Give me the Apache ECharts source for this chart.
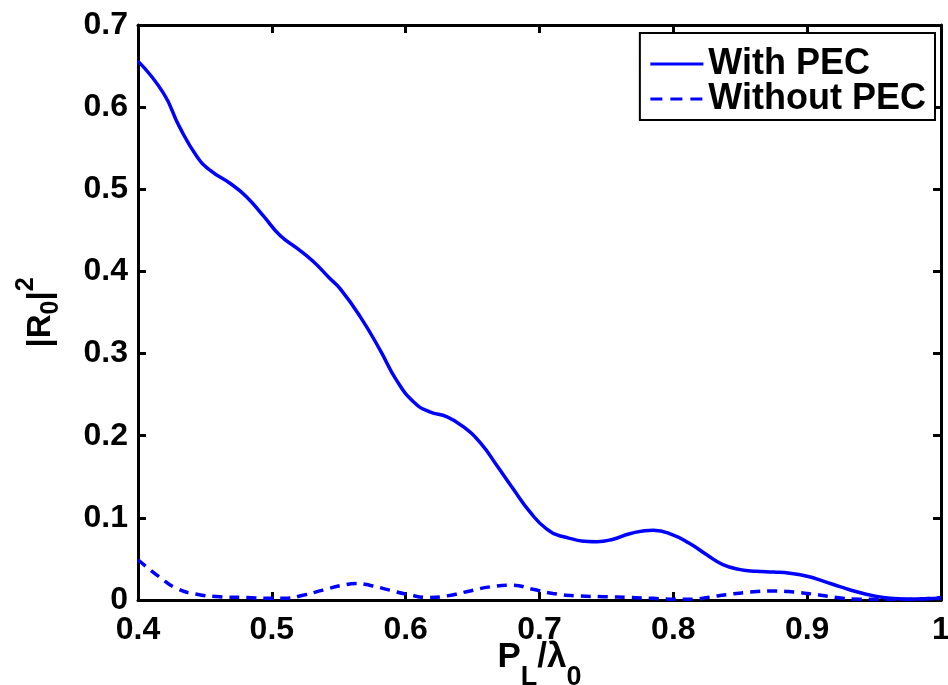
<!DOCTYPE html>
<html>
<head>
<meta charset="utf-8">
<script src="https://cdn.jsdelivr.net/npm/echarts@6/dist/echarts.min.js"></script>
<style>
  html, body { margin: 0; padding: 0; background: #fff; }
  #chart { width: 948px; height: 685px; }
</style>
</head>
<body>
<div id="chart"></div>
<script>
// Reflectance |R0|^2 versus normalised period P_L / lambda_0
const withPecX = [0.400, 0.419, 0.431, 0.444, 0.454, 0.469, 0.481, 0.494, 0.506, 0.519,
  0.531, 0.543, 0.551, 0.566, 0.581, 0.593, 0.606, 0.618, 0.631, 0.643,
  0.656, 0.668, 0.680, 0.693, 0.705, 0.718, 0.743, 0.755, 0.768, 0.785,
  0.800, 0.812, 0.825, 0.837, 0.850, 0.862, 0.875, 0.887, 0.900, 0.912,
  0.925, 0.937, 0.950, 0.962, 0.975, 1.000];
const withPecY = [0.656, 0.617, 0.576, 0.540, 0.523, 0.507, 0.491, 0.467, 0.444, 0.428,
  0.412, 0.392, 0.379, 0.345, 0.304, 0.268, 0.241, 0.229, 0.223, 0.211,
  0.191, 0.164, 0.136, 0.107, 0.087, 0.077, 0.071, 0.074, 0.081, 0.085,
  0.079, 0.069, 0.055, 0.043, 0.037, 0.035, 0.034, 0.0325, 0.029, 0.023,
  0.016, 0.010, 0.005, 0.002, 0.001, 0.002];

const withoutPecX = [0.400, 0.416, 0.429, 0.444, 0.461, 0.481, 0.499, 0.509, 0.524, 0.538,
  0.553, 0.563, 0.573, 0.588, 0.601, 0.618, 0.631, 0.648, 0.663, 0.680,
  0.695, 0.710, 0.728, 0.748, 0.768, 0.785, 0.798, 0.815, 0.825, 0.842,
  0.860, 0.875, 0.890, 0.905, 0.922, 0.940, 0.960, 0.980, 1.000];
const withoutPecY = [0.049, 0.028, 0.014, 0.007, 0.004, 0.003, 0.002, 0.002, 0.006, 0.012,
  0.018, 0.020, 0.018, 0.012, 0.007, 0.003, 0.005, 0.011, 0.016, 0.018,
  0.013, 0.008, 0.005, 0.004, 0.003, 0.002, 0.001, 0.001, 0.003, 0.007,
  0.010, 0.011, 0.0097, 0.007, 0.003, 0.001, 0.001, 0.001, 0.003];

const seriesNames = ['With PEC', 'Without PEC'];
const xTicks = [0.4, 0.5, 0.6, 0.7, 0.8, 0.9, 1];
const yTicks = [0, 0.1, 0.2, 0.3, 0.4, 0.5, 0.6, 0.7];

const pairs = (xs, ys) => xs.map((x, i) => [x, ys[i]]);
const FONT = '"Liberation Sans", Arial, Helvetica, sans-serif';
const BLUE = '#0000ff';

const chart = echarts.init(document.getElementById('chart'), null, { renderer: 'canvas' });

const axisLine = { show: true, onZero: false, lineStyle: { color: '#000', width: 3 } };
const axisTick = { show: true, inside: true, length: 8, lineStyle: { color: '#000', width: 3 } };
const labelStyle = { color: '#000', fontFamily: FONT, fontWeight: 'bold', fontSize: 32 };

const fmt = v => (v === 0 ? '0' : v === 1 ? '1' : String(+v.toFixed(1)));

chart.setOption({
  animation: false,
  backgroundColor: '#fff',
  grid: { left: 138, right: 7, top: 25, bottom: 85, containLabel: false, outerBoundsMode: 'none' },
  legend: {
    data: [
      { name: seriesNames[0], lineStyle: { type: 'solid', width: 3 } },
      { name: seriesNames[1], lineStyle: { type: [12, 8], width: 3 } }
    ],
    orient: 'vertical',
    right: 13,
    top: 33,
    backgroundColor: '#fff',
    borderColor: '#000',
    borderWidth: 2,
    borderRadius: 0,
    padding: [13, 9, 3, 9],
    itemWidth: 53,
    itemHeight: 14,
    itemGap: -1,
    itemStyle: { opacity: 0 },
    textStyle: { color: '#000', fontFamily: FONT, fontWeight: 'bold', fontSize: 36, lineHeight: 32 }
  },
  xAxis: [
    {
      type: 'value', min: 0.4, max: 1, interval: 0.1, position: 'bottom',
      axisLine, axisTick, splitLine: { show: false },
      axisLabel: Object.assign({ margin: 14, formatter: fmt, showMinLabel: true, showMaxLabel: true }, labelStyle),
      name: '{a|P}{s|L}{a|/λ}{s|0}',
      nameLocation: 'middle',
      nameGap: 40,
      nameMoveOverlap: false,
      nameTextStyle: {
        rich: {
          a: { color: '#000', fontFamily: FONT, fontWeight: 'bold', fontSize: 35, lineHeight: 35 },
          s: { color: '#000', fontFamily: FONT, fontWeight: 'bold', fontSize: 27, lineHeight: 27, padding: [40, 0, 0, 0] }
        }
      }
    },
    {
      type: 'value', min: 0.4, max: 1, interval: 0.1, position: 'top',
      axisLine, axisTick, axisLabel: { show: false }, splitLine: { show: false }
    }
  ],
  yAxis: [
    {
      type: 'value', min: 0, max: 0.7, interval: 0.1, position: 'left',
      axisLine, axisTick, splitLine: { show: false },
      axisLabel: Object.assign({ margin: 10, formatter: fmt }, labelStyle),
      name: '{a||R}{s|0}{a||}{p|2}',
      nameLocation: 'middle',
      nameRotate: 90,
      nameGap: 80,
      nameTextStyle: {
        rich: {
          a: { color: '#000', fontFamily: FONT, fontWeight: 'bold', fontSize: 33, lineHeight: 34 },
          s: { color: '#000', fontFamily: FONT, fontWeight: 'bold', fontSize: 25, lineHeight: 25, padding: [20, 0, 0, 0] },
          p: { color: '#000', fontFamily: FONT, fontWeight: 'bold', fontSize: 25, lineHeight: 25, padding: [0, 0, 30, 0] }
        }
      }
    },
    {
      type: 'value', min: 0, max: 0.7, interval: 0.1, position: 'right',
      axisLine, axisTick, axisLabel: { show: false }, splitLine: { show: false }
    }
  ],
  series: [
    {
      name: seriesNames[0], type: 'line', xAxisIndex: 0, yAxisIndex: 0,
      data: pairs(withPecX, withPecY), smooth: 0.5, showSymbol: false, symbol: 'none', clip: false,
      lineStyle: { color: BLUE, width: 3.5, type: 'solid' }, itemStyle: { color: BLUE }, z: 5
    },
    {
      name: seriesNames[1], type: 'line', xAxisIndex: 0, yAxisIndex: 0,
      data: pairs(withoutPecX, withoutPecY), smooth: 0.5, showSymbol: false, symbol: 'none', clip: false,
      lineStyle: { color: BLUE, width: 3.5, type: [10, 7] }, itemStyle: { color: BLUE }, z: 5
    }
  ]
});
</script>
</body>
</html>
